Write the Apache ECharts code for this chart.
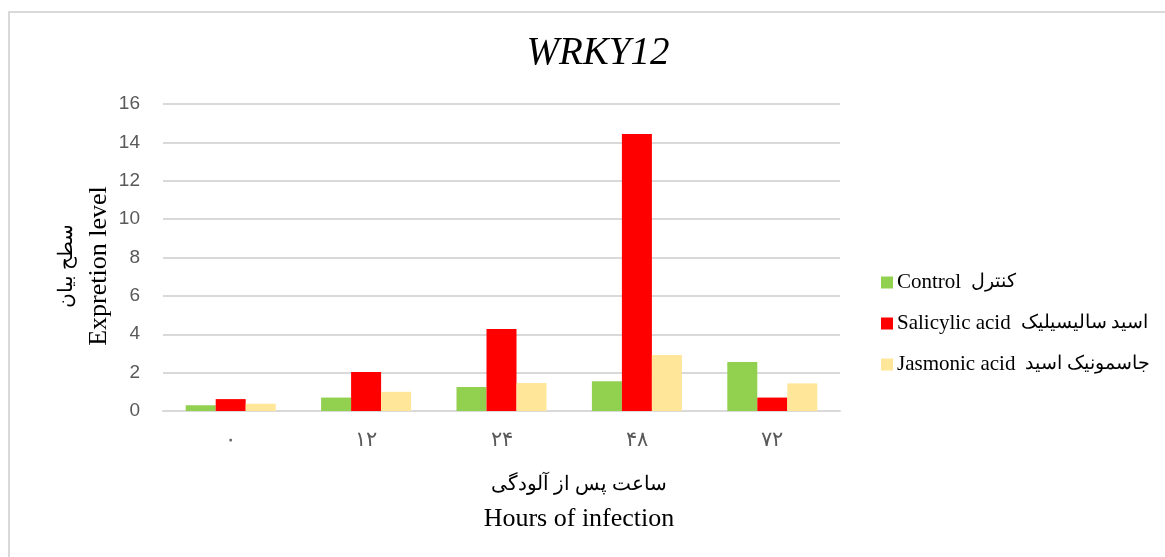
<!DOCTYPE html>
<html>
<head>
<meta charset="utf-8">
<script src="https://cdn.jsdelivr.net/npm/echarts@6/dist/echarts.min.js"></script>
<style>html,body{margin:0;padding:0;background:#fff}#c{width:1165px;height:557px}</style>
</head>
<body>
<div id="c"></div>
<script>
const categories = ['۰', '۱۲', '۲۴', '۴۸', '۷۲'];
const seriesNamesEn = ['Control', 'Salicylic acid', 'Jasmonic acid'];
const seriesNamesFa = ['کنترل', 'اسید سالیسیلیک', 'جاسمونیک اسید'];
const controlValues = [0.3, 0.7, 1.25, 1.55, 2.55];
const salicylicValues = [0.62, 2.03, 4.27, 14.43, 0.7];
const jasmonicValues = [0.38, 1.0, 1.46, 2.92, 1.44];
const yTicks = [0, 2, 4, 6, 8, 10, 12, 14, 16];
const colors = ['#92D050', '#FF0000', '#FFE699'];

const serif = '"Liberation Serif", "DejaVu Serif", serif';
const chart = echarts.init(document.getElementById('c'), null, {renderer: 'canvas'});
const values = [controlValues, salicylicValues, jasmonicValues];
const seriesNames = seriesNamesEn.map((e, i) => e + ' ' + seriesNamesFa[i]);

chart.setOption({
  animation: false,
  backgroundColor: '#fff',
  title: [{
    text: 'WRKY12',
    left: 593, top: 29, textAlign: 'center',
    textStyle: {fontFamily: serif, fontStyle: 'italic', fontWeight: 'normal', fontSize: 39, color: '#000'}
  }, {
    text: '{fa|ساعت پس از آلودگی}\n{en|Hours of infection}',
    left: 574, top: 462, textAlign: 'center',
    textStyle: {
      fontWeight: 'normal',
      rich: {
        fa: {fontFamily: serif, fontWeight: 'normal', fontSize: 20, lineHeight: 35, color: '#000'},
        en: {fontFamily: serif, fontWeight: 'normal', fontSize: 26, lineHeight: 35, color: '#000'}
      }
    }
  }],
  graphic: [{
    type: 'rect', silent: true,
    shape: {x: 9, y: 12, width: 1200, height: 600},
    style: {fill: 'none', stroke: '#D9D9D9', lineWidth: 2}
  }, {
    type: 'text', silent: true,
    x: 83, y: 266, rotation: Math.PI / 2,
    style: {
      text: '{fa|سطح بیان}\n{en|Expretion level}',
      align: 'center', verticalAlign: 'middle',
      rich: {
        fa: {fontFamily: serif, fontSize: 20, lineHeight: 32, fill: '#000'},
        en: {fontFamily: serif, fontSize: 26, lineHeight: 32, fill: '#000'}
      }
    }
  }],
  legend: {
    orient: 'vertical', left: 876, top: 267,
    itemWidth: 12, itemHeight: 12, itemGap: 20,
    icon: 'rect',
    formatter: function (name) {
      const i = seriesNames.indexOf(name);
      return '{en|' + seriesNamesEn[i] + '}{fa|' + seriesNamesFa[i] + '}';
    },
    textStyle: {
      padding: [0, 0, 0, -1],
      rich: {
        en: {fontFamily: serif, fontSize: 21, color: '#000'},
        fa: {fontFamily: serif, fontSize: 18.5, color: '#000', padding: [0, 0, 0, 10]}
      }
    },
    data: seriesNames
  },
  grid: {left: 163, right: 325, top: 104, bottom: 146, containLabel: false},
  xAxis: {
    type: 'category', data: categories,
    axisLine: {lineStyle: {color: '#D9D9D9', width: 2}},
    axisTick: {show: false},
    axisLabel: {margin: 19, fontFamily: serif, fontSize: 21, color: '#595959'}
  },
  yAxis: {
    type: 'value', min: yTicks[0], max: yTicks[yTicks.length - 1], interval: 2,
    axisLine: {show: false}, axisTick: {show: false},
    splitLine: {lineStyle: {color: '#D9D9D9', width: 2}},
    axisLabel: {margin: 23, fontFamily: '"Liberation Sans", "Open Sans", sans-serif', fontSize: 19, color: '#595959'}
  },
  series: seriesNames.map((n, i) => ({
    name: n, type: 'bar', data: values[i],
    barWidth: 30, barGap: '0%',
    itemStyle: {color: colors[i]}
  }))
});
</script>
</body>
</html>
